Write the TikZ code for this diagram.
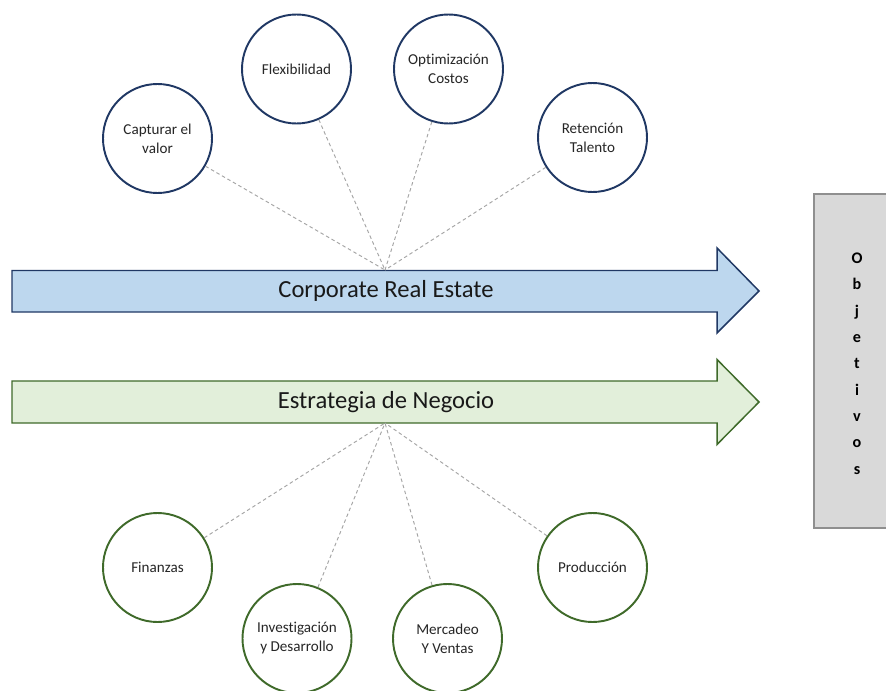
\documentclass[tikz,border=0pt]{standalone}
\usepackage{fontspec}
\setmainfont{Carlito}[Ligatures={NoCommon,NoRare,NoContextual}]
\usetikzlibrary{positioning}

\definecolor{navy}{HTML}{203864}
\definecolor{creblue}{HTML}{BDD7EE}
\definecolor{forest}{HTML}{3F6A2A}
\definecolor{negogreen}{HTML}{E2EFDA}
\definecolor{boxgray}{HTML}{D9D9D9}
\definecolor{boxline}{HTML}{8F8F8F}
\definecolor{spokegray}{HTML}{A6A6A6}

\tikzset{
  topic/.style={circle, draw, line width=1.1pt, fill=white, minimum size=21.8mm,
    inner sep=0pt, align=center, text=black!85, font=\fontsize{8.6}{10.8}\selectfont},
  cretopic/.style={topic, draw=navy},
  negotopic/.style={topic, draw=forest},
  bigarrow/.style={line width=0.85pt, line join=miter},
  arrowlabel/.style={font=\fontsize{14}{16}\selectfont, text=black!90},
  spoke/.style={draw=spokegray, line width=0.55pt, dash pattern=on 2pt off 1.6pt}
}

\begin{document}
\begin{tikzpicture}[x=0.2mm, y=-0.2mm]
\useasboundingbox (0,0) rectangle (886,691);

% the two arrows
\draw[bigarrow, draw=navy, fill=creblue]
  (12,270.5) -- (717,270.5) -- (717,248) -- (759,291) -- (717,333) -- (717,312) -- (12,312) -- cycle;
\node[arrowlabel] (cre) at (386,291) {Corporate Real Estate};
\coordinate (creHub) at (385,270);

\draw[bigarrow, draw=forest, fill=negogreen]
  (12,381) -- (717,381) -- (717,359.5) -- (759,402) -- (717,444.5) -- (717,423) -- (12,423) -- cycle;
\node[arrowlabel] (nego) at (386,402) {Estrategia de Negocio};
\coordinate (negoHub) at (385,423);

% objectives box
\node[draw=boxline, fill=boxgray, line width=1.1pt, minimum width=17.2mm, minimum height=66.8mm] (obj) at (857,361) {};
\node[align=center, font=\fontsize{9.2}{15}\selectfont\bfseries] (objtxt) at (857,363.5)
  {O\\b\\j\\e\\t\\i\\v\\o\\s};

% real estate topics
\node[cretopic] (capt) at (157.5,138.5) {Capturar el\\valor};
\node[cretopic] (flex) at (296.5,69) {Flexibilidad};
\node[cretopic] (opti) at (448.5,69) {Optimización\\Costos};
\node[cretopic] (rete) at (592.5,137.5) {Retención\\Talento};

% business topics
\node[negotopic] (fina) at (157.5,567.5) {Finanzas};
\node[negotopic] (inve) at (297,638.5) {Investigación\\y Desarrollo};
\node[negotopic] (merc) at (447.5,638.5) {Mercadeo\\Y Ventas};
\node[negotopic] (prod) at (592.5,567.5) {Producción};

% spokes
\foreach \t in {capt,flex,opti,rete}
  \draw[spoke] (\t) -- (creHub);
\foreach \t in {fina,inve,merc,prod}
  \draw[spoke] (\t) -- (negoHub);

\end{tikzpicture}
\end{document}
